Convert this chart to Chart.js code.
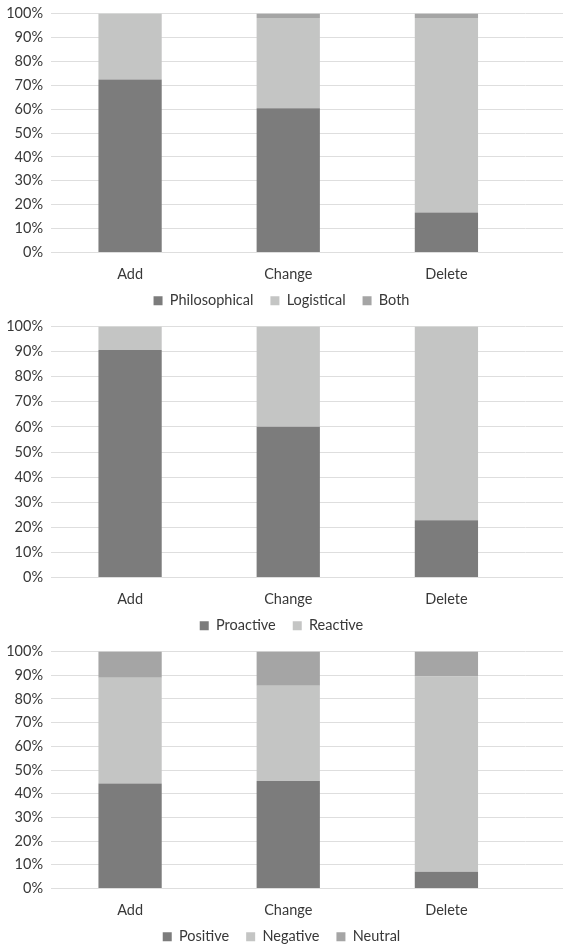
<!DOCTYPE html>
<html>
<head>
<meta charset="utf-8">
<script src="https://cdn.jsdelivr.net/npm/chart.js@4/dist/chart.umd.min.js"></script>
<style>
  html, body { margin: 0; padding: 0; background: #ffffff; }
  body { width: 563px; height: 945px; position: relative; overflow: hidden; }
  .panel { position: absolute; left: 0; width: 563px; }
</style>
</head>
<body>
<div class="panel" id="p1" style="top:0px;height:318px"><canvas id="c1"></canvas></div>
<div class="panel" id="p2" style="top:313px;height:330px"><canvas id="c2"></canvas></div>
<div class="panel" id="p3" style="top:638px;height:316px"><canvas id="c3"></canvas></div>
<script>
// Categories shared by all three panels
const categories = ['Add', 'Change', 'Delete'];
const percentTicks = ['0%', '10%', '20%', '30%', '40%', '50%', '60%', '70%', '80%', '90%', '100%'];

// Panel 1: type of rationale (percent of changes)
const philosophical = [72.4, 60.4, 16.7];
const logistical    = [27.6, 37.7, 81.4];
const both          = [0.0, 1.9, 1.9];

// Panel 2: timing
const proactive = [90.6, 60.1, 22.8];
const reactive  = [9.4, 39.9, 77.2];

// Panel 3: tone
const positive = [44.3, 45.4, 7.1];
const negative = [44.6, 40.1, 82.3];
const neutral  = [11.1, 14.5, 10.6];

const DARK = '#7c7c7c', LIGHT = '#c4c5c4', MID = '#a5a5a5';
const GRID = '#dedede', TEXT = '#383838';
const FONT = 'Lato';
const FONT_SIZE = 14.5;

// Same half-pixel snapping Chart.js uses for 1px grid lines
const snap = (p) => Math.round(p - 0.5) + 0.5;

// Carry the horizontal gridlines past the plot area to the right edge
const gridExtend = {
  id: 'gridExtend',
  beforeDatasetsDraw(chart) {
    const { ctx, chartArea, scales } = chart;
    const y = scales.y;
    ctx.save();
    ctx.strokeStyle = GRID;
    ctx.lineWidth = 1;
    y.ticks.forEach((t, i) => {
      const py = snap(y.getPixelForTick(i));
      ctx.beginPath();
      ctx.moveTo(chartArea.right, py);
      ctx.lineTo(chart.width, py);
      ctx.stroke();
    });
    ctx.restore();
  }
};

function makeChart(id, series) {
  return new Chart(document.getElementById(id), {
    type: 'bar',
    data: {
      labels: categories,
      datasets: series.map(s => ({
        label: s.label,
        data: s.data,
        backgroundColor: s.color,
        borderWidth: 0,
        categoryPercentage: 1,
        barPercentage: 0.4
      }))
    },
    options: {
      responsive: true,
      maintainAspectRatio: false,
      animation: false,
      layout: { padding: { top: 13.5, right: 0, left: 0, bottom: 0 } },
      plugins: {
        legend: {
          position: 'bottom',
          labels: {
            boxWidth: 9, boxHeight: 9, padding: 17,
            color: TEXT, font: { family: FONT, size: FONT_SIZE }
          }
        },
        tooltip: { enabled: false }
      },
      scales: {
        x: {
          stacked: true,
          grid: { display: false },
          border: { display: true, color: GRID, width: 1 },
          ticks: { color: TEXT, font: { family: FONT, size: FONT_SIZE }, padding: 5 },
          afterFit(scale) { scale.height = 24; },
          // category names sit lower than the thin axis band; let them draw unclipped
          afterUpdate(scale) { scale._computeLabelArea = () => undefined; }
        },
        y: {
          stacked: true,
          min: 0, max: 100,
          grid: { color: GRID, drawTicks: false },
          border: { display: false },
          ticks: {
            stepSize: 10, padding: 8, color: TEXT,
            // compact line height keeps the top tick label from pushing the plot down
            font: { family: FONT, size: FONT_SIZE, lineHeight: 0.6 },
            callback: (v) => percentTicks[Math.round(v / 10)]
          },
          afterFit(scale) { scale.width = 51; }
        },
        // empty margin on the right of the plot area
        gutter: {
          type: 'linear',
          position: 'right',
          grid: { display: false },
          border: { display: false },
          ticks: { display: false },
          afterFit(scale) { scale.width = 37.5; }
        }
      }
    },
    plugins: [gridExtend]
  });
}

makeChart('c1', [
  { label: 'Philosophical', data: philosophical, color: DARK },
  { label: 'Logistical', data: logistical, color: LIGHT },
  { label: 'Both', data: both, color: MID }
]);
makeChart('c2', [
  { label: 'Proactive', data: proactive, color: DARK },
  { label: 'Reactive', data: reactive, color: LIGHT }
]);
makeChart('c3', [
  { label: 'Positive', data: positive, color: DARK },
  { label: 'Negative', data: negative, color: LIGHT },
  { label: 'Neutral', data: neutral, color: MID }
]);
</script>
</body>
</html>
